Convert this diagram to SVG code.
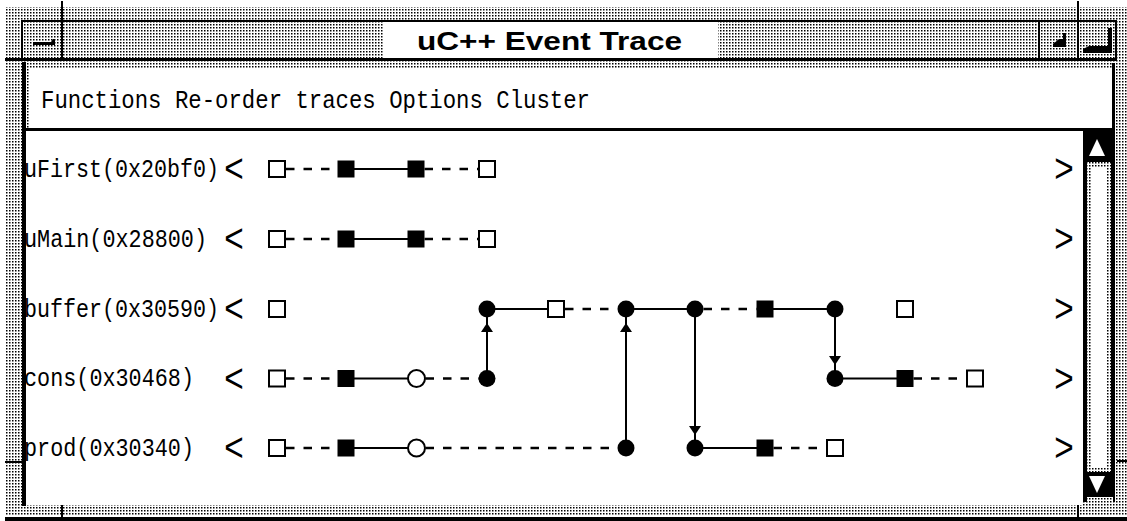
<svg xmlns="http://www.w3.org/2000/svg" width="1127" height="521" viewBox="0 0 1127 521">
<defs>
<pattern id="stip" width="3" height="3" patternUnits="userSpaceOnUse"><rect width="3" height="3" fill="#fff"/><rect width="1.5" height="1.5" fill="#000"/></pattern>
<marker id="ah" viewBox="0 0 9 12" refX="9" refY="6" markerWidth="9" markerHeight="12" markerUnits="userSpaceOnUse" orient="auto"><path d="M0,0 L9,6 L0,12 z" fill="#000"/></marker>
</defs>
<style>
.blk{fill:#000}
.st{fill:url(#stip)}
.wh{fill:#fff}
.osq{fill:#fff;stroke:#000;stroke-width:2}
.fsq{fill:#000}
.fc{fill:#000}
.oc{fill:#fff;stroke:#000;stroke-width:2}
.solid{stroke:#000;stroke-width:2;fill:none}
.dash{stroke:#000;stroke-width:2.5;stroke-dasharray:8.5 9;fill:none}
.arr{stroke:#000;stroke-width:2;fill:none;marker-mid:url(#ah)}
.mono{font-family:"Liberation Mono","DejaVu Sans Mono",monospace;font-size:26px;fill:#000}
.big{font-size:40px}
.ang{font-family:"Liberation Mono","DejaVu Sans Mono",monospace;font-size:40px;fill:#000;text-anchor:middle}
.title{font-family:"Liberation Sans",Arial,sans-serif;font-weight:bold;font-size:25px;fill:#000}
</style>
<rect width="1127" height="521" fill="#fff"/>
<g id="window-frame">
<rect x="5" y="7" width="1122" height="509" class="st"/>
<rect x="5" y="517" width="1122" height="4" class="blk"/>
<rect x="61" y="1" width="2" height="58" class="blk"/>
<rect x="1077" y="1" width="2" height="58" class="blk"/>
<rect x="61" y="505" width="2" height="16" class="blk"/>
<rect x="1077" y="505" width="2" height="16" class="blk"/>
<rect x="5" y="461" width="18" height="2" class="blk"/>
<rect x="1117" y="460" width="10" height="2" class="blk"/>
</g>
<g id="title-bar">
<rect x="383" y="22" width="335" height="36" class="wh"/>
<rect x="21" y="20" width="1096" height="2" class="blk"/>
<rect x="21" y="20" width="2" height="40" class="blk"/>
<rect x="5" y="58" width="1112" height="3" class="blk"/>
<rect x="1115" y="20" width="2" height="41" class="blk"/>
<rect x="1038" y="22" width="2" height="36" class="blk"/>
<polygon points="33,42 51,42 53,39 55,39 55,45 33,45" class="blk"/>
<polygon points="1063,33 1066,33 1066,47 1053,47 1053,44 1059,39 1063,39" class="blk"/>
<polygon points="1108,28 1112,28 1112,53 1083,53 1083,49 1089,46 1108,46" class="blk"/>
<text x="417" y="50" class="title" textLength="265" lengthAdjust="spacingAndGlyphs">uC++ Event Trace</text>
</g>
<g id="menu-bar">
<rect x="29" y="68" width="1083" height="60" class="wh"/>
<rect x="26" y="128" width="1089" height="3" class="blk"/>
<rect x="1112" y="63" width="3" height="68" class="blk"/>
<text x="41" y="108" class="mono" textLength="549" lengthAdjust="spacingAndGlyphs">Functions Re-order traces Options Cluster</text>
</g>
<g id="canvas">
<rect x="26" y="131" width="1057" height="374" class="wh"/>
</g>
<g id="labels">
<text class="mono"><tspan x="24" y="176.5" textLength="195" lengthAdjust="spacingAndGlyphs">uFirst(0x20bf0)</tspan><tspan x="224" y="182" class="big" textLength="20" lengthAdjust="spacingAndGlyphs">&lt;</tspan></text>
<text class="mono"><tspan x="24" y="246.5" textLength="183" lengthAdjust="spacingAndGlyphs">uMain(0x28800)</tspan><tspan x="224" y="252" class="big" textLength="20" lengthAdjust="spacingAndGlyphs">&lt;</tspan></text>
<text class="mono"><tspan x="24" y="316.5" textLength="195" lengthAdjust="spacingAndGlyphs">buffer(0x30590)</tspan><tspan x="224" y="322" class="big" textLength="20" lengthAdjust="spacingAndGlyphs">&lt;</tspan></text>
<text class="mono"><tspan x="24" y="386" textLength="170" lengthAdjust="spacingAndGlyphs">cons(0x30468)</tspan><tspan x="224" y="391.5" class="big" textLength="20" lengthAdjust="spacingAndGlyphs">&lt;</tspan></text>
<text class="mono"><tspan x="24" y="455.5" textLength="170" lengthAdjust="spacingAndGlyphs">prod(0x30340)</tspan><tspan x="224" y="461" class="big" textLength="20" lengthAdjust="spacingAndGlyphs">&lt;</tspan></text>
<text x="1064" y="182" class="ang" textLength="20" lengthAdjust="spacingAndGlyphs">&gt;</text>
<text x="1064" y="252" class="ang" textLength="20" lengthAdjust="spacingAndGlyphs">&gt;</text>
<text x="1064" y="322" class="ang" textLength="20" lengthAdjust="spacingAndGlyphs">&gt;</text>
<text x="1064" y="391.5" class="ang" textLength="20" lengthAdjust="spacingAndGlyphs">&gt;</text>
<text x="1064" y="461" class="ang" textLength="20" lengthAdjust="spacingAndGlyphs">&gt;</text>
</g>
<rect x="22" y="62" width="4" height="444" class="blk"/>
<g id="scrollbar">
<rect x="1083" y="131" width="32" height="371" class="blk"/>
<rect x="1087" y="162" width="24" height="310" class="st"/>
<rect x="1092" y="167" width="15" height="300" class="wh"/>
<rect x="1087" y="497" width="26" height="5" class="st"/>
<polygon points="1097,139 1089,156 1105,156" class="wh"/>
<polygon points="1089,476 1105,476 1097,493" class="wh"/>
</g>
<g id="connectors">
<line x1="286" y1="169" x2="338" y2="169" class="dash"/>
<line x1="346" y1="169" x2="416" y2="169" class="solid"/>
<line x1="424.5" y1="169" x2="478" y2="169" class="dash"/>
<line x1="286" y1="239" x2="338" y2="239" class="dash"/>
<line x1="346" y1="239" x2="416" y2="239" class="solid"/>
<line x1="424.5" y1="239" x2="478" y2="239" class="dash"/>
<line x1="487" y1="309" x2="556" y2="309" class="solid"/>
<line x1="565" y1="309" x2="617.5" y2="309" class="dash"/>
<line x1="626" y1="309" x2="695" y2="309" class="solid"/>
<line x1="703.5" y1="309" x2="756.5" y2="309" class="dash"/>
<line x1="765" y1="309" x2="835" y2="309" class="solid"/>
<line x1="286" y1="378.5" x2="338" y2="378.5" class="dash"/>
<line x1="346" y1="378.5" x2="416" y2="378.5" class="solid"/>
<line x1="425.5" y1="378.5" x2="478.5" y2="378.5" class="dash"/>
<line x1="835" y1="378.5" x2="905" y2="378.5" class="solid"/>
<line x1="913.5" y1="378.5" x2="966" y2="378.5" class="dash"/>
<line x1="286" y1="448" x2="338" y2="448" class="dash"/>
<line x1="346" y1="448" x2="416" y2="448" class="solid"/>
<line x1="425.5" y1="448" x2="617.5" y2="448" class="dash"/>
<line x1="695" y1="448" x2="765" y2="448" class="solid"/>
<line x1="773.5" y1="448" x2="826" y2="448" class="dash"/>
<path d="M487,378.5 L487,323 L487,309" class="arr"/>
<path d="M626,448 L626,323 L626,309" class="arr"/>
<path d="M695,309 L695,435 L695,448" class="arr"/>
<path d="M835,309 L835,365 L835,378.5" class="arr"/>
</g>
<g id="n-uFirst-1"><rect x="269" y="161" width="16" height="16" class="osq"/></g>
<g id="n-uFirst-2"><rect x="337.5" y="160.5" width="17" height="17" class="fsq"/></g>
<g id="n-uFirst-3"><rect x="407.5" y="160.5" width="17" height="17" class="fsq"/></g>
<g id="n-uFirst-4"><rect x="479" y="161" width="16" height="16" class="osq"/></g>
<g id="n-uMain-1"><rect x="269" y="231" width="16" height="16" class="osq"/></g>
<g id="n-uMain-2"><rect x="337.5" y="230.5" width="17" height="17" class="fsq"/></g>
<g id="n-uMain-3"><rect x="407.5" y="230.5" width="17" height="17" class="fsq"/></g>
<g id="n-uMain-4"><rect x="479" y="231" width="16" height="16" class="osq"/></g>
<g id="n-buffer-1"><rect x="269" y="301" width="16" height="16" class="osq"/></g>
<g id="n-buffer-2"><circle cx="487" cy="309" r="8.5" class="fc"/></g>
<g id="n-buffer-3"><rect x="548" y="301" width="16" height="16" class="osq"/></g>
<g id="n-buffer-4"><circle cx="626" cy="309" r="8.5" class="fc"/></g>
<g id="n-buffer-5"><circle cx="695" cy="309" r="8.5" class="fc"/></g>
<g id="n-buffer-6"><rect x="756.5" y="300.5" width="17" height="17" class="fsq"/></g>
<g id="n-buffer-7"><circle cx="835" cy="309" r="8.5" class="fc"/></g>
<g id="n-buffer-8"><rect x="897" y="301" width="16" height="16" class="osq"/></g>
<g id="n-cons-1"><rect x="269" y="370.5" width="16" height="16" class="osq"/></g>
<g id="n-cons-2"><rect x="337.5" y="370" width="17" height="17" class="fsq"/></g>
<g id="n-cons-3"><circle cx="416.5" cy="378.5" r="8.5" class="oc"/></g>
<g id="n-cons-4"><circle cx="487" cy="378.5" r="8.5" class="fc"/></g>
<g id="n-cons-5"><circle cx="835" cy="378.5" r="8.5" class="fc"/></g>
<g id="n-cons-6"><rect x="896.5" y="370" width="17" height="17" class="fsq"/></g>
<g id="n-cons-7"><rect x="967" y="370.5" width="16" height="16" class="osq"/></g>
<g id="n-prod-1"><rect x="269" y="440" width="16" height="16" class="osq"/></g>
<g id="n-prod-2"><rect x="337.5" y="439.5" width="17" height="17" class="fsq"/></g>
<g id="n-prod-3"><circle cx="416.5" cy="448" r="8.5" class="oc"/></g>
<g id="n-prod-4"><circle cx="626" cy="448" r="8.5" class="fc"/></g>
<g id="n-prod-5"><circle cx="695" cy="448" r="8.5" class="fc"/></g>
<g id="n-prod-6"><rect x="756.5" y="439.5" width="17" height="17" class="fsq"/></g>
<g id="n-prod-7"><rect x="827" y="440" width="16" height="16" class="osq"/></g>
</svg>
